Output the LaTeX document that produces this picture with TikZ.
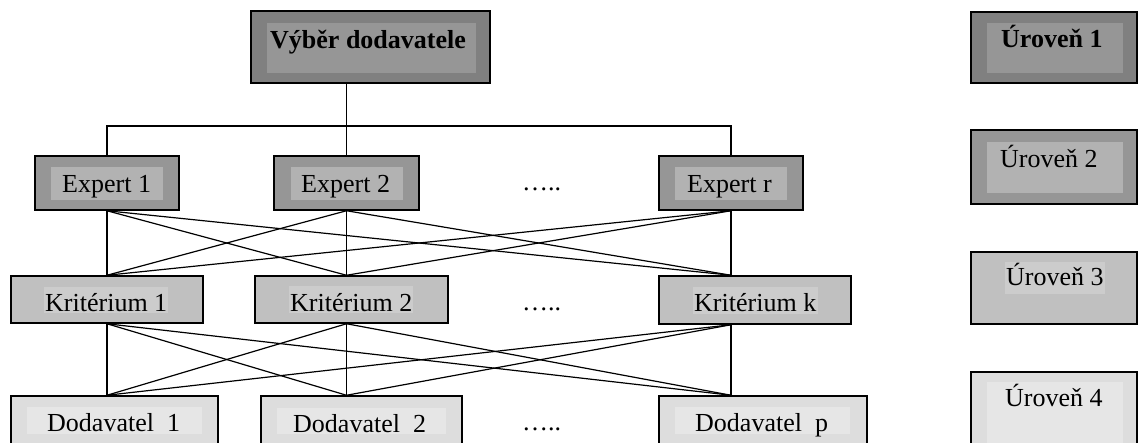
\documentclass[tikz,border=0pt]{standalone}
\usepackage{fontspec}
\setmainfont{Liberation Serif}
\definecolor{gAout}{HTML}{808080}
\definecolor{gAin}{HTML}{969696}
\definecolor{gBout}{HTML}{969696}
\definecolor{gBin}{HTML}{B2B2B2}
\definecolor{gCout}{HTML}{C0C0C0}
\definecolor{gCin}{HTML}{CCCCCC}
\definecolor{gDout}{HTML}{DDDDDD}
\definecolor{gDin}{HTML}{E6E6E6}
\tikzset{
  box/.style={draw=black, line width=1.5pt, inner sep=0pt, rectangle},
  lvA/.style={box, fill=gAout, line width=2pt},
  lvB/.style={box, fill=gBout},
  lvC/.style={box, fill=gCout},
  lvD/.style={box, fill=gDout},
  txt/.style={anchor=base west, inner sep=0pt, font=\fontsize{26}{30}\selectfont},
  conn/.style={draw=black, line width=1.2pt},
}
\begin{document}
\begin{tikzpicture}[x=1pt,y=-1pt]
\useasboundingbox (0,0) rectangle (1139,442);
\clip (0,0) rectangle (1139,442);

% level 1: goal
\node[lvA, minimum width=239pt, minimum height=72pt] (goal) at (370.5,47) {};
\fill[gAin] (267,23) rectangle (476,73);
\node[txt, font=\fontsize{26}{30}\selectfont\bfseries] (tgoal) at (270,48) {Výběr dodavatele};

% level 2: experts
\node[lvB, minimum width=144pt, minimum height=54pt] (e1) at (107,183) {};
\fill[gBin] (51,167) rectangle (163,200);
\node[txt] (te1) at (62,192) {Expert 1};
\node[lvB, minimum width=145pt, minimum height=54pt] (e2) at (346.5,183) {};
\fill[gBin] (291,167) rectangle (403,200);
\node[txt] (te2) at (301,192) {Expert 2};
\node[lvB, minimum width=144pt, minimum height=54pt] (e3) at (731,183) {};
\fill[gBin] (675,167) rectangle (787,200);
\node[txt] (te3) at (687,192) {Expert r};
\node[txt] (dotsE) at (522,190) {…..};

% level 3: criteria
\node[lvC, minimum width=192pt, minimum height=47pt] (k1) at (107,299.5) {};
\fill[gCin] (44,287) rectangle (168,313);
\node[txt] (tk1) at (45,311) {Kritérium 1};
\node[lvC, minimum width=193pt, minimum height=47pt] (k2) at (351.5,299.5) {};
\fill[gCin] (289,286) rectangle (413,313);
\node[txt] (tk2) at (290,311) {Kritérium 2};
\node[lvC, minimum width=192pt, minimum height=48pt] (k3) at (755,300) {};
\fill[gCin] (693,287) rectangle (818,314);
\node[txt] (tk3) at (694,311) {Kritérium k};
\node[txt] (dotsK) at (522,310) {…..};

% level 4: suppliers
\node[lvD, minimum width=207pt, minimum height=64pt] (d1) at (114.5,428) {};
\fill[gDin] (27,407) rectangle (202,434);
\node[txt] (td1) at (47,431) {Dodavatel\ \ 1};
\node[lvD, minimum width=201pt, minimum height=64pt] (d2) at (361.5,428) {};
\fill[gDin] (277,408) rectangle (446,434);
\node[txt] (td2) at (293,432) {Dodavatel\ \ 2};
\node[lvD, minimum width=208pt, minimum height=64pt] (d3) at (763,428) {};
\fill[gDin] (675,407) rectangle (850,434);
\node[txt] (td3) at (695,431) {Dodavatel\ \ p};
\node[txt] (dotsD) at (522,430) {…..};

% level legend on the right
\node[lvA, minimum width=166pt, minimum height=71pt] (u1) at (1054,47.5) {};
\fill[gAin] (987,23) rectangle (1123,73);
\node[txt, font=\fontsize{26}{30}\selectfont\bfseries] (tu1) at (1001,47) {Úroveň 1};
\node[lvB, line width=2pt, minimum width=166pt, minimum height=74pt] (u2) at (1054,167) {};
\fill[gBin] (987,142) rectangle (1123,193);
\node[txt] (tu2) at (1000,167) {Úroveň 2};
\node[lvC, line width=2pt, minimum width=166pt, minimum height=72pt] (u3) at (1054,288) {};
\fill[gCin] (1005,262) rectangle (1105,294);
\node[txt] (tu3) at (1006,285) {Úroveň 3};
\node[lvD, line width=2pt, minimum width=166pt, minimum height=88pt] (u4) at (1054,416) {};
\fill[gDin] (987,382) rectangle (1123,446);
\node[txt] (tu4) at (1005,406) {Úroveň 4};

% goal to experts
\draw[conn] (goal.south -| e2.north) -- (e2.north);
\coordinate (bus) at (0,126);
\draw[conn] (e1.north) |- (bus -| e2.north) -| (e3.north);

% full links between consecutive levels
\foreach \i in {1,2,3}{
  \foreach \j in {1,2,3}{
    \draw[conn] (e\i.south) -- (k\j.north -| e\j.south);
    \draw[conn] (k\i.south -| e\i.south) -- (d\j.north -| e\j.south);
  }
}
\end{tikzpicture}
\end{document}
